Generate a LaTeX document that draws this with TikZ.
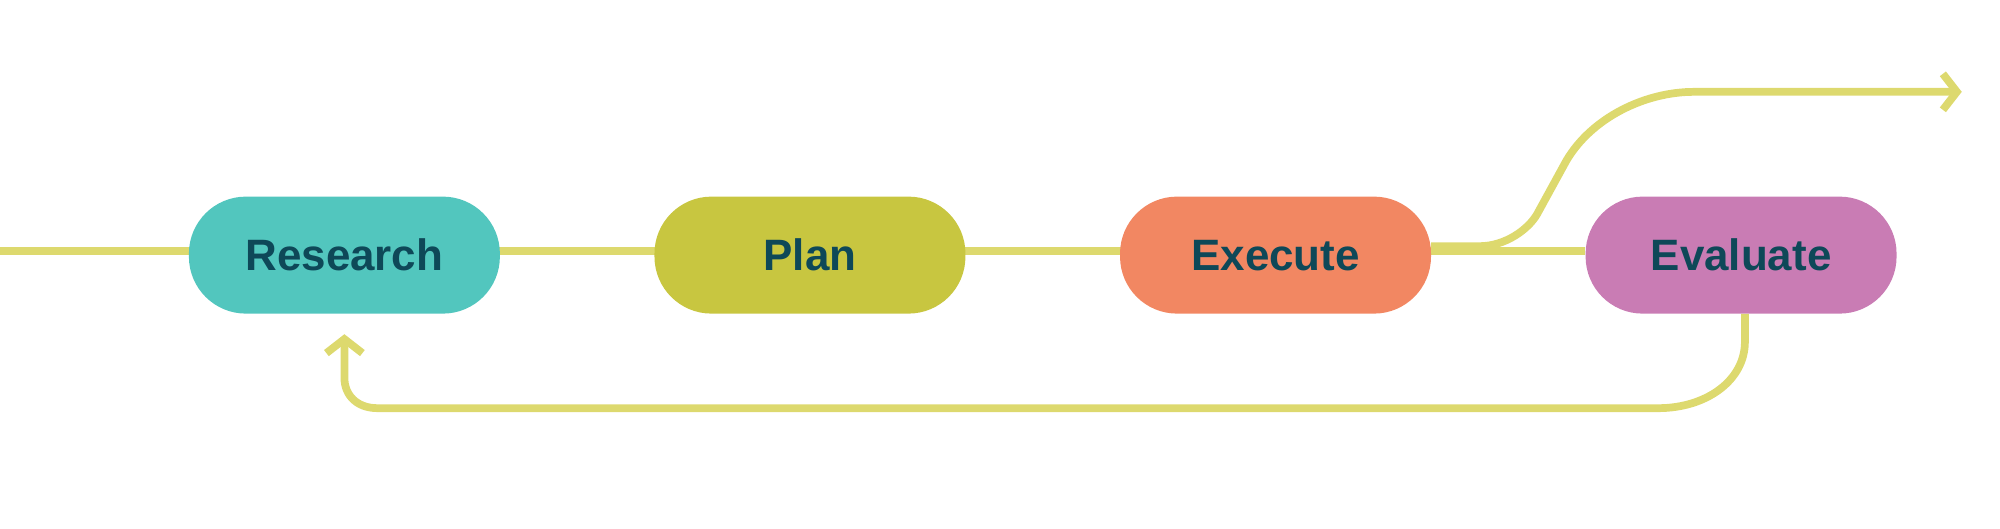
\documentclass[tikz,border=0pt]{standalone}
\usepackage{fontspec}
\setmainfont{Liberation Sans}
\usetikzlibrary{arrows.meta}
\definecolor{flow}{RGB}{221,217,110}
\definecolor{ink}{RGB}{14,72,88}
\definecolor{teal}{RGB}{82,198,190}
\definecolor{olive}{RGB}{200,198,64}
\definecolor{salmon}{RGB}{242,135,98}
\definecolor{orchid}{RGB}{201,124,180}
\begin{document}
\begin{tikzpicture}[x=0.012755cm,y=-0.012755cm,
  stage/.style={rounded corners=0.57cm, minimum width=3.11cm, minimum height=1.17cm,
    font=\fontsize{12.5}{14}\selectfont\bfseries, text=ink, inner sep=0pt},
  track/.style={draw=flow, line width=2.2pt},
  tip/.style={-{Straight Barb[length=1.4mm,width=3.6mm,line width=2.2pt]}}]

\useasboundingbox (0,0) rectangle (1568,414);

\coordinate (start) at (0,197);
\coordinate (stop) at (1243,197);

% main line
\draw[track] (start) -- (stop);

\node[stage, fill=teal] (research) at (270,200) {Research};
\node[stage, fill=olive] (plan) at (635,200) {Plan};
\node[stage, fill=salmon] (execute) at (1000,200) {Execute};
\node[stage, fill=orchid] (evaluate) at (1365,200) {Evaluate};

% way out
\coordinate (out) at (1538,72);
\draw[track, tip] (1122,193) -- (1160,193) .. controls (1180,193) and (1198,180) .. (1205,168)
  -- (1228,126) .. controls (1248,92) and (1290,72) .. (1328,72) -- (out);

% way back
\coordinate (back) at (270,262);
\draw[track, tip] (1368,246) -- (1368,268) .. controls (1368,298) and (1338,320) .. (1300,320)
  -- (296,320) .. controls (280,320) and (270,310) .. (270,296) -- (back);

\end{tikzpicture}
\end{document}
